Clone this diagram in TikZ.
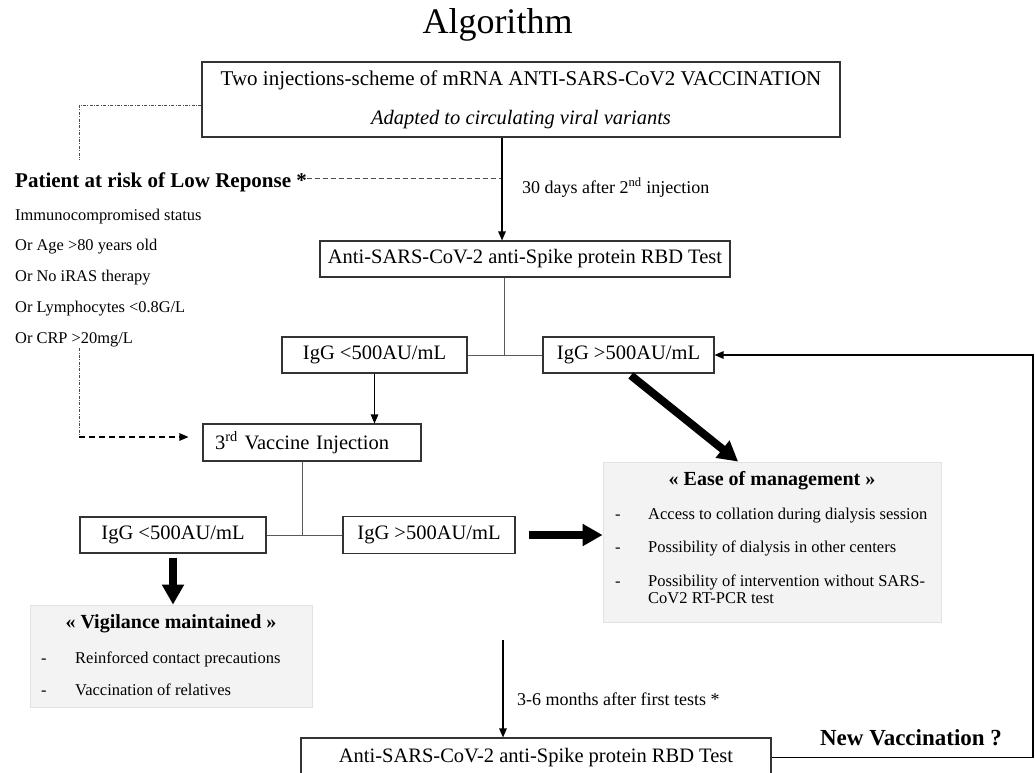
\documentclass[tikz,border=0pt]{standalone}
\usepackage{fontspec}
\setmainfont{Liberation Serif}
\usetikzlibrary{arrows.meta}
\usetikzlibrary{calc}

\newcommand{\mainfs}{\fontsize{20.5}{24}\selectfont}
\newcommand{\listfs}{\fontsize{16.4}{19}\selectfont}
\newcommand{\itemfs}{\fontsize{16.5}{19}\selectfont}
\newcommand{\notefs}{\fontsize{18}{21}\selectfont}
\definecolor{boxline}{HTML}{333333}
\definecolor{panelfill}{HTML}{F3F3F3}
\definecolor{panelline}{HTML}{E2E2E2}

\begin{document}
\begin{tikzpicture}[x=1pt, y=-1pt,
        box/.style={draw=boxline, line width=1.1pt, inner sep=0pt, font=\mainfs},
        panel/.style={fill=panelfill, draw=panelline, line width=0.8pt, inner sep=0pt},
        txt/.style={anchor=base west, inner sep=0pt},
        head/.style={anchor=base, inner sep=0pt},
        link/.style={draw=black!65, line width=0.7pt},
        arr/.style={line width=1.2pt, -{Triangle[length=9pt, width=7.5pt]}},
        fat/.style={line width=8pt, -{Triangle[length=20pt, width=21pt]}},
        dashline/.style={draw=black!70, line width=0.7pt, dash pattern=on 5pt off 3pt},
        dashdot/.style={draw=black!70, line width=0.7pt, dash pattern=on 3pt off 1.5pt on 0.8pt off 1.5pt},
        dasharr/.style={line width=1.1pt, dash pattern=on 6pt off 4pt, -{Triangle[length=9pt, width=7.5pt]}}]
            \useasboundingbox (0, 0) rectangle (1035, 772);
            \clip (0, 0) rectangle (1035, 772);

            \node (title) at (497.5, 33) [head, font=\fontsize{36}{40}\selectfont] {Algorithm};

            \node (scheme) at (521, 99.5) [box, minimum width=638pt, minimum height=75pt, align=center, font=\fontsize{20.5}{39}\selectfont] {{\fontsize{21}{39}\selectfont Two injections-scheme of mRNA ANTI-SARS-CoV2 VACCINATION}\\ \textit{Adapted to circulating viral variants}};
            \node (test1) at (525, 259) [box, minimum width=410pt, minimum height=36pt] {Anti-SARS-CoV-2 anti-Spike protein RBD Test};
            \node (low1) at (374.5, 355) [box, minimum width=185pt, minimum height=36pt] {IgG <500AU/mL};
            \node (high1) at (628.5, 355) [box, minimum width=171pt, minimum height=36pt] {IgG >500AU/mL};
            \node (third) at (312, 442.5) [box, minimum width=218pt, minimum height=37pt, text width=194pt, align=left] {3\textsuperscript{rd} Vaccine Injection};
            \node (low2) at (173, 535) [box, minimum width=186pt, minimum height=36pt] {IgG <500AU/mL};
            \node (high2) at (429, 535) [box, minimum width=172pt, minimum height=37pt] {IgG >500AU/mL};
            \node (test2) at (536, 757.5) [box, minimum width=470pt, minimum height=39pt] {Anti-SARS-CoV-2 anti-Spike protein RBD Test};

            %Patients at risk, on the left.
            \node (risk) at (15, 187) [txt, font=\fontsize{21}{24}\selectfont\bfseries] {Patient at risk of Low Reponse *};
            \node (imm) at (15, 220) [txt, font=\listfs] {Immunocompromised status};
            \node (age) at (15, 250) [txt, font=\listfs] {Or Age >80 years old};
            \node (iras) at (15, 281) [txt, font=\listfs] {Or No iRAS therapy};
            \node (lym) at (15, 312) [txt, font=\listfs] {Or Lymphocytes <0.8G/L};
            \node (crp) at (15, 343) [txt, font=\listfs] {Or CRP >20mg/L};

            \node (delay1) at (522, 193) [txt, font=\notefs] {30 days after 2\textsuperscript{nd} injection};
            \node (delay2) at (517, 705) [txt, font=\notefs] {3-6 months after first tests *};
            \node (newvac) at (911, 745) [head, font=\fontsize{23}{26}\selectfont\bfseries] {New Vaccination ?};

            %Grey panels.
            \node (vigil) at (171, 656) [panel, minimum width=282pt, minimum height=102pt] {};
            \node (vigiltitle) at (171, 628) [head, font=\fontsize{20}{24}\selectfont\bfseries] {« Vigilance maintained »};
            \node (vdash1) at (41, 663) [txt, font=\itemfs] {-};
            \node (vitem1) at (75, 663) [txt, font=\itemfs] {Reinforced contact precautions};
            \node (vdash2) at (41, 695) [txt, font=\itemfs] {-};
            \node (vitem2) at (75, 695) [txt, font=\itemfs] {Vaccination of relatives};

            \node (ease) at (772, 542) [panel, minimum width=338pt, minimum height=160pt] {};
            \node (easetitle) at (772, 485) [head, font=\fontsize{20}{24}\selectfont\bfseries] {« Ease of management »};
            \node (edash1) at (615, 519) [txt, font=\itemfs] {-};
            \node (eitem1) at (648, 519) [txt, font=\itemfs] {Access to collation during dialysis session};
            \node (edash2) at (615, 552) [txt, font=\itemfs] {-};
            \node (eitem2) at (648, 552) [txt, font=\itemfs] {Possibility of dialysis in other centers};
            \node (edash3) at (615, 586) [txt, font=\itemfs] {-};
            \node (eitem3) at (648, 586) [txt, font=\itemfs] {Possibility of intervention without SARS-};
            \node (eitem3b) at (648, 603) [txt, font=\itemfs] {CoV2 RT-PCR test};

            \coordinate (bend1) at (79, 105);
            \coordinate (riskend) at (79, 160);
            \coordinate (bend2) at (79, 348);
            \coordinate (bend3) at (79, 437);
            \coordinate (mainjoin) at (502, 178);
            \coordinate (split1) at (504, 355);
            \coordinate (split2) at (302, 535);
            \coordinate (recheck) at (503, 640);
            \coordinate (loopdown) at (1033, 757.5);

            \draw[dashdot] (scheme.west |- bend1) -- (bend1) -- (riskend);
            \draw[dashline] (risk.east |- mainjoin) -- (mainjoin);
            \draw[arr] (scheme.south -| mainjoin) -- (test1.north -| mainjoin);

            \draw[link] (test1.south -| split1) -- (split1);
            \draw[link] (low1) -- (high1);
            \draw[arr] (low1.south) -- (low1.south |- third.north);

            %Risk patients go straight to the third injection.
            \draw[dashdot] (bend2) -- (bend3);
            \draw[dasharr, shorten >=14pt] (bend3) -- (third.west |- bend3);

            \draw[link] (third.south -| split2) -- (split2);
            \draw[link] (low2) -- (high2);

            \draw[fat, shorten <=3pt] (high1.south) -- ($(ease.north west)!0.4!(ease.north east)$);
            \draw[fat, shorten <=13pt] (high2) -- (ease.west |- high2);
            \draw[fat, shorten <=4pt] (low2) -- (vigil.north -| low2);

            \draw[arr] (recheck) -- (recheck |- test2.north);
            \draw[arr] (test2.east) -- (loopdown) -- (loopdown |- high1.east) -- (high1.east);
        \end{tikzpicture}
\end{document}
